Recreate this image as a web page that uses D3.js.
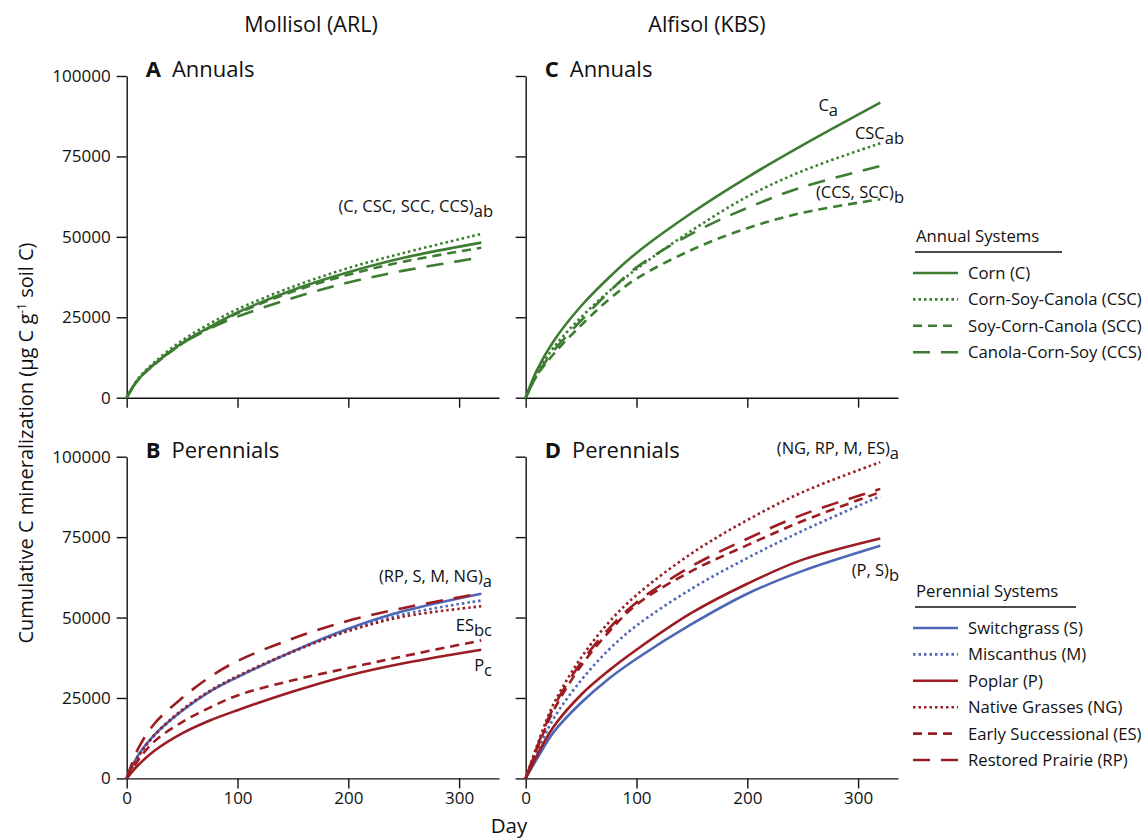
<!DOCTYPE html>
<html>
<head>
  <style>
    body { margin: 0; background: #fff; }
    text { font-family: "Open Sans", sans-serif; fill: #111; }
    .axis path, .axis line { stroke: #111; stroke-width: 1.4; }
    .axis text { font-size: 17px; }
  </style>
</head>
<body>
  <svg id="chart" width="1146" height="839"></svg>

  <script src="https://cdnjs.cloudflare.com/ajax/libs/d3/7.8.5/d3.min.js"></script>
  <script>
    // sampling days shared by every curve
    const days = [0, 10, 25, 50, 75, 100, 150, 200, 250, 320];

    // Mollisol (ARL) annuals
    const arlCorn = [0, 5500, 10500, 17000, 22000, 26500, 33500, 39000, 43500, 48200];
    const arlCSC  = [0, 5800, 11000, 17800, 23000, 27500, 34500, 40300, 45000, 50900];
    const arlSCC  = [0, 5400, 10300, 16800, 21800, 26200, 33000, 38200, 42300, 46600];
    const arlCCS  = [0, 5600, 10500, 16800, 21500, 25200, 31000, 35800, 39500, 43600];

    // Alfisol (KBS) annuals
    const kbsCorn = [0, 8500, 17500, 28500, 37300, 45000, 57500, 68500, 78500, 91700];
    const kbsCSC  = [0, 7500, 15500, 25000, 33000, 40000, 52000, 62500, 70500, 79100];
    const kbsSCC  = [0, 6800, 13500, 22500, 30500, 37000, 46000, 52700, 57500, 61700];
    const kbsCCS  = [0, 7000, 14500, 24000, 32800, 40500, 51000, 59000, 65500, 72000];

    // Mollisol (ARL) perennials
    const arlS  = [0, 7000, 13500, 21000, 27000, 31500, 39500, 46500, 52000, 57400];
    const arlM  = [0, 6800, 13300, 21000, 27000, 31500, 39300, 46000, 51000, 55300];
    const arlP  = [0, 4000, 8600, 14000, 18000, 21200, 27000, 32000, 35800, 40000];
    const arlNG = [0, 6500, 13500, 21300, 27200, 31800, 39500, 45800, 50300, 53500];
    const arlES = [0, 5500, 11500, 17500, 22000, 25800, 30500, 34300, 38000, 42900];
    const arlRP = [0, 9000, 17000, 25000, 31500, 36500, 43500, 49000, 53000, 57500];

    // Alfisol (KBS) perennials
    const kbsS  = [0, 6000, 14300, 23500, 31000, 37200, 48000, 57400, 64500, 72300];
    const kbsM  = [0, 8000, 18500, 30500, 40000, 47500, 59000, 68500, 77000, 87700];
    const kbsP  = [0, 7000, 16000, 26000, 33500, 40000, 51500, 60500, 68000, 74600];
    const kbsNG = [0, 10000, 23000, 37500, 48500, 57000, 70000, 80300, 89000, 98300];
    const kbsES = [0, 9000, 21000, 35000, 45500, 54000, 64500, 72500, 80000, 89000];
    const kbsRP = [0, 9500, 22000, 36000, 46500, 54700, 66000, 74500, 82000, 90000];

    const yTicks = [0, 25000, 50000, 75000, 100000];
    const xTicks = [0, 100, 200, 300];

    const annualNames = ["Corn (C)", "Corn-Soy-Canola (CSC)", "Soy-Corn-Canola (SCC)", "Canola-Corn-Soy (CCS)"];
    const perennialNames = ["Switchgrass (S)", "Miscanthus (M)", "Poplar (P)", "Native Grasses (NG)", "Early Successional (ES)", "Restored Prairie (RP)"];

    // styles
    const green = "#3d7d32", blue = "#4d66b6", red = "#9b1c22";
    const solid = null, dotted = "2.5,3", shortDash = "9,6", longDash = "17,11";

    const annualStyle = [
      { color: green, dash: solid },
      { color: green, dash: dotted },
      { color: green, dash: shortDash },
      { color: green, dash: longDash }
    ];
    const perennialStyle = [
      { color: blue, dash: solid },
      { color: blue, dash: dotted },
      { color: red, dash: solid },
      { color: red, dash: dotted },
      { color: red, dash: shortDash },
      { color: red, dash: longDash }
    ];

    const panels = [
      { letter: "A", name: "Annuals", left: 126.7, top: 76, series: [arlCorn, arlCSC, arlSCC, arlCCS], style: annualStyle, yLabels: true, xLabels: false,
        notes: [{ x: 493, y: 212, main: "(C, CSC, SCC, CCS)", sub: "ab" }] },
      { letter: "C", name: "Annuals", left: 525.7, top: 76, series: [kbsCorn, kbsCSC, kbsSCC, kbsCCS], style: annualStyle, yLabels: false, xLabels: false,
        notes: [{ x: 838, y: 111, main: "C", sub: "a" }, { x: 904, y: 139, main: "CSC", sub: "ab" }, { x: 904, y: 198, main: "(CCS, SCC)", sub: "b" }] },
      { letter: "B", name: "Perennials", left: 126.7, top: 456.7, series: [arlS, arlM, arlP, arlNG, arlES, arlRP], style: perennialStyle, yLabels: true, xLabels: true,
        notes: [{ x: 492, y: 582, main: "(RP, S, M, NG)", sub: "a" }, { x: 492, y: 631, main: "ES", sub: "bc" }, { x: 492, y: 671, main: "P", sub: "c" }] },
      { letter: "D", name: "Perennials", left: 525.7, top: 456.7, series: [kbsS, kbsM, kbsP, kbsNG, kbsES, kbsRP], style: perennialStyle, yLabels: false, xLabels: true,
        notes: [{ x: 899, y: 454, main: "(NG, RP, M, ES)", sub: "a" }, { x: 899, y: 576, main: "(P, S)", sub: "b" }] }
    ];

    const innerW = 372.3, innerH = 321.7;
    const x = d3.scaleLinear().domain([0, 336]).range([0, innerW]);
    const y = d3.scaleLinear().domain([0, 100000]).range([innerH, 0]);

    const svg = d3.select("#chart");

    const line = d3.line()
      .x((d, i) => x(days[i]))
      .y(d => y(d))
      .curve(d3.curveCatmullRom.alpha(0.5));

    panels.forEach(p => {
      const g = svg.append("g").attr("transform", `translate(${p.left},${p.top})`);

      g.append("g")
        .attr("class", "axis")
        .call(d3.axisLeft(y).tickValues(yTicks).tickSize(10).tickSizeOuter(0).tickPadding(6)
          .tickFormat(p.yLabels ? d3.format("d") : ""));

      g.append("g")
        .attr("class", "axis")
        .attr("transform", `translate(0,${innerH})`)
        .call(d3.axisBottom(x).tickValues(xTicks).tickSize(10).tickSizeOuter(0).tickPadding(4)
          .tickFormat(p.xLabels ? d3.format("d") : ""));

      p.series.forEach((vals, i) => {
        g.append("path")
          .datum(vals)
          .attr("fill", "none")
          .attr("stroke", p.style[i].color)
          .attr("stroke-width", 2.6)
          .attr("stroke-dasharray", p.style[i].dash)
          .attr("d", line);
      });

      // panel title
      const t = svg.append("text")
        .attr("x", p.left + 19)
        .attr("y", p.top + 1)
        .style("font-size", "22px");
      t.append("tspan").attr("font-weight", "bold").text(p.letter);
      t.append("tspan").attr("dx", 11).text(p.name);

      // significance labels
      p.notes.forEach(n => {
        const tx = svg.append("text")
          .attr("x", n.x)
          .attr("y", n.y)
          .attr("text-anchor", "end")
          .style("font-size", "16.5px");
        tx.append("tspan").text(n.main);
        tx.append("tspan").attr("dy", 5).text(n.sub);
      });
    });

    // column headings
    svg.append("text").attr("x", 311).attr("y", 32).attr("text-anchor", "middle")
      .style("font-size", "21.5px").text("Mollisol (ARL)");
    svg.append("text").attr("x", 707).attr("y", 32).attr("text-anchor", "middle")
      .style("font-size", "21.5px").text("Alfisol (KBS)");

    // axis titles
    svg.append("text").attr("x", 509).attr("y", 833).attr("text-anchor", "middle")
      .style("font-size", "20.5px").text("Day");

    const yl = svg.append("text")
      .attr("transform", "translate(33,443) rotate(-90)")
      .attr("text-anchor", "middle")
      .style("font-size", "20px");
    yl.append("tspan").text("Cumulative C mineralization (\u03bcg C g");
    yl.append("tspan").attr("dy", -7).style("font-size", "12px").text("-1");
    yl.append("tspan").attr("dy", 7).text(" soil C)");

    // legends
    function legend(title, top, underlineEnd, names, styles) {
      const lg = svg.append("g");
      lg.append("text").attr("x", 916).attr("y", top).style("font-size", "16.7px").text(title);
      lg.append("line").attr("x1", 915).attr("x2", underlineEnd)
        .attr("y1", top + 10).attr("y2", top + 10)
        .attr("stroke", "#111").attr("stroke-width", 1.3);
      names.forEach((name, i) => {
        const yy = top + 31 + i * 26.4;
        lg.append("line").attr("x1", 913).attr("x2", 958).attr("y1", yy).attr("y2", yy)
          .attr("stroke", styles[i].color).attr("stroke-width", 2.6)
          .attr("stroke-dasharray", styles[i].dash);
        lg.append("text").attr("x", 968).attr("y", yy + 6).style("font-size", "16.7px").text(name);
      });
    }
    legend("Annual Systems", 242, 1062, annualNames, annualStyle);
    legend("Perennial Systems", 597, 1076, perennialNames, perennialStyle);
  </script>
</body>
</html>
